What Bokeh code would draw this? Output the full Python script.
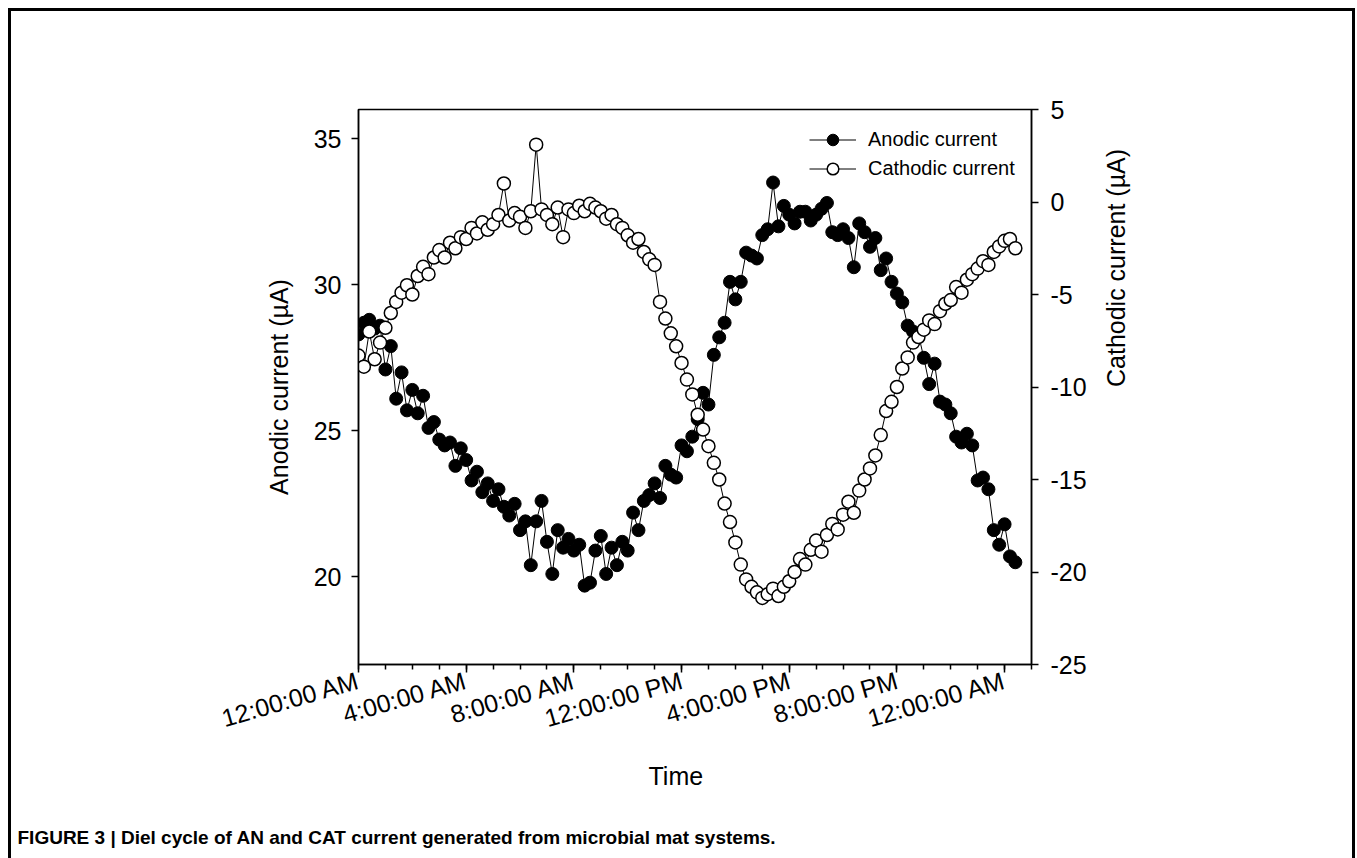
import math
from bokeh.plotting import figure
from bokeh.models import Range1d, LinearAxis, FixedTicker, Legend, LegendItem, ColumnDataSource, Title
from bokeh.layouts import column
from bokeh.embed import file_html
from bokeh.resources import INLINE

# ---------------- data ----------------
start_hour = 0.0
step_hour = 0.2   # logging interval (h)

anodic = [
    28.3, 28.7, 28.8, 28.5, 28.6,
    27.1, 27.9, 26.1, 27.0, 25.7,
    26.4, 25.6, 26.2, 25.1, 25.3,
    24.7, 24.5, 24.6, 23.8, 24.4,
    24.0, 23.3, 23.6, 22.9, 23.2,
    22.6, 23.0, 22.4, 22.1, 22.5,
    21.6, 21.9, 20.4, 21.9, 22.6,
    21.2, 20.1, 21.6, 21.0, 21.3,
    20.9, 21.1, 19.7, 19.8, 20.9,
    21.4, 20.1, 21.0, 20.4, 21.2,
    20.9, 22.2, 21.6, 22.6, 22.8,
    23.2, 22.7, 23.8, 23.5, 23.4,
    24.5, 24.3, 24.8, 25.4, 26.3,
    25.9, 27.6, 28.2, 28.7, 30.1,
    29.5, 30.1, 31.1, 31.0, 30.9,
    31.7, 31.9, 33.5, 32.0, 32.7,
    32.4, 32.1, 32.5, 32.5, 32.2,
    32.4, 32.6, 32.8, 31.8, 31.7,
    31.9, 31.6, 30.6, 32.1, 31.8,
    31.3, 31.6, 30.5, 30.9, 30.1,
    29.7, 29.4, 28.6, 28.4, 28.3,
    27.5, 26.6, 27.3, 26.0, 25.9,
    25.6, 24.8, 24.6, 24.9, 24.5,
    23.3, 23.4, 23.0, 21.6, 21.1,
    21.8, 20.7, 20.5,
]

cathodic = [
    -8.3, -8.9, -7.0, -8.5, -7.6,
    -6.8, -6.0, -5.4, -4.9, -4.5,
    -5.0, -4.0, -3.5, -3.9, -3.0,
    -2.6, -3.0, -2.2, -2.5, -1.9,
    -2.0, -1.4, -1.7, -1.1, -1.5,
    -1.2, -0.7, 1.0, -1.0, -0.6,
    -0.8, -1.4, -0.5, 3.1, -0.4,
    -0.7, -1.2, -0.3, -1.9, -0.4,
    -0.6, -0.2, -0.5, -0.1, -0.3,
    -0.5, -0.9, -0.7, -1.2, -1.4,
    -1.8, -2.2, -2.0, -2.7, -3.1,
    -3.4, -5.4, -6.3, -7.1, -7.8,
    -8.7, -9.6, -10.4, -11.5, -12.3,
    -13.2, -14.1, -15.0, -16.3, -17.3,
    -18.4, -19.6, -20.4, -20.8, -21.1,
    -21.4, -21.2, -20.9, -21.3, -20.8,
    -20.5, -20.0, -19.3, -19.6, -18.8,
    -18.3, -18.9, -18.0, -17.4, -17.7,
    -16.9, -16.2, -16.8, -15.6, -15.0,
    -14.4, -13.7, -12.6, -11.3, -10.8,
    -10.0, -9.0, -8.4, -7.6, -7.3,
    -6.9, -6.4, -6.6, -5.9, -5.5,
    -5.3, -4.6, -4.9, -4.2, -3.9,
    -3.6, -3.2, -3.4, -2.7, -2.4,
    -2.1, -2.0, -2.5,
]

hours = [round(start_hour + step_hour * i, 2) for i in range(len(anodic))]

x_tick_hours = [0, 4, 8, 12, 16, 20, 24]
x_tick_labels = ["12:00:00 AM", "4:00:00 AM", "8:00:00 AM", "12:00:00 PM",
                 "4:00:00 PM", "8:00:00 PM", "12:00:00 AM"]
x_minor_hours = list(range(0, 26))
left_ticks = [20, 25, 30, 35]
right_ticks = [-25, -20, -15, -10, -5, 0, 5]

x_title = "Time"
caption = "FIGURE 3 | Diel cycle of AN and CAT current generated from microbial mat systems."

# ---------------- styling ----------------
FONT = "Liberation Sans"

p = figure(frame_width=673, frame_height=555, output_backend="svg", toolbar_location=None,
           x_range=Range1d(0, 25), y_range=Range1d(17, 36),
           min_border_left=347, min_border_right=321,
           min_border_top=98, min_border_bottom=194,
           background_fill_color="white", border_fill_color="white")
p.extra_y_ranges = {"cat": Range1d(-25, 5)}
p.grid.visible = False
p.outline_line_color = "black"
p.outline_line_width = 1.5

src = ColumnDataSource(dict(h=hours, an=anodic, cat=cathodic))

# anodic (left axis)
l1 = p.line("h", "an", source=src, line_color="black", line_width=1)
s1 = p.scatter("h", "an", source=src, size=13, marker="circle",
               fill_color="black", line_color="black", line_width=1)
# cathodic (right axis)
l2 = p.line("h", "cat", source=src, line_color="black", line_width=1, y_range_name="cat")
s2 = p.scatter("h", "cat", source=src, size=13, marker="circle",
               fill_color="white", line_color="black", line_width=1.5, y_range_name="cat")


def style_axis(ax):
    ax.axis_label_text_font = FONT
    ax.axis_label_text_font_size = "25px"
    ax.axis_label_text_font_style = "normal"
    ax.axis_label_text_color = "black"
    ax.major_label_text_font = FONT
    ax.major_label_text_font_size = "25px"
    ax.major_label_text_color = "black"
    ax.axis_line_color = "black"
    ax.axis_line_width = 1.5
    ax.major_tick_line_color = "black"
    ax.major_tick_line_width = 1.5
    ax.minor_tick_line_color = "black"
    ax.minor_tick_line_width = 1.5
    ax.major_tick_in = 0
    ax.minor_tick_in = 0


# x axis
xa = p.xaxis[0]
style_axis(xa)
xa.ticker = FixedTicker(ticks=x_tick_hours, minor_ticks=x_minor_hours)
xa.major_label_overrides = {h: t for h, t in zip(x_tick_hours, x_tick_labels)}
xa.major_label_orientation = math.radians(16)
xa.major_label_standoff = 7
xa.major_tick_out = 8
xa.minor_tick_out = 5

# left axis
ya = p.yaxis[0]
style_axis(ya)
ya.ticker = FixedTicker(ticks=left_ticks, minor_ticks=[])
ya.axis_label = "Anodic current (\u00b5A)"
ya.axis_label_standoff = 18
ya.major_label_standoff = 10
ya.major_tick_out = 7

# right axis
ra = LinearAxis(y_range_name="cat", ticker=FixedTicker(ticks=right_ticks, minor_ticks=[]))
style_axis(ra)
ra.major_label_overrides = {t: str(t) for t in right_ticks}
ra.axis_label = "Cathodic current (\u00b5A)"
ra.axis_label_standoff = 26
if "axis_label_orientation" in ra.properties():
    ra.axis_label_orientation = math.pi / 2
ra.major_label_standoff = 12
ra.major_tick_out = 7
p.add_layout(ra, "right")

# legend
legend = Legend(items=[LegendItem(label="Anodic current", renderers=[l1, s1]),
                       LegendItem(label="Cathodic current", renderers=[l2, s2])],
                location=(451, 481), orientation="vertical",
                glyph_width=47, glyph_height=29, label_height=29, spacing=0,
                padding=0, margin=0, label_standoff=12,
                label_text_font=FONT, label_text_font_size="20px",
                label_text_color="black",
                border_line_color=None, background_fill_alpha=0)
p.add_layout(legend)

# x-axis title (placed a little left of centre, as in the source figure)
t_time = Title(text=x_title, align="left", offset=290, standoff=22,
               text_font=FONT, text_font_size="25px", text_font_style="normal",
               text_color="black")
p.add_layout(t_time, "below")

# caption below the chart
cap = Title(text=caption, align="left", offset=-341, standoff=48,
            text_font=FONT, text_font_size="19px", text_font_style="bold",
            text_color="black")
p.add_layout(cap, "below")

layout = column(p, spacing=0,
                styles={"margin-left": "8px", "margin-top": "8px",
                        "border-left": "3px solid black",
                        "border-top": "3px solid black",
                        "border-right": "3px solid black"})

open("out.html", "w").write(file_html(layout, INLINE))
